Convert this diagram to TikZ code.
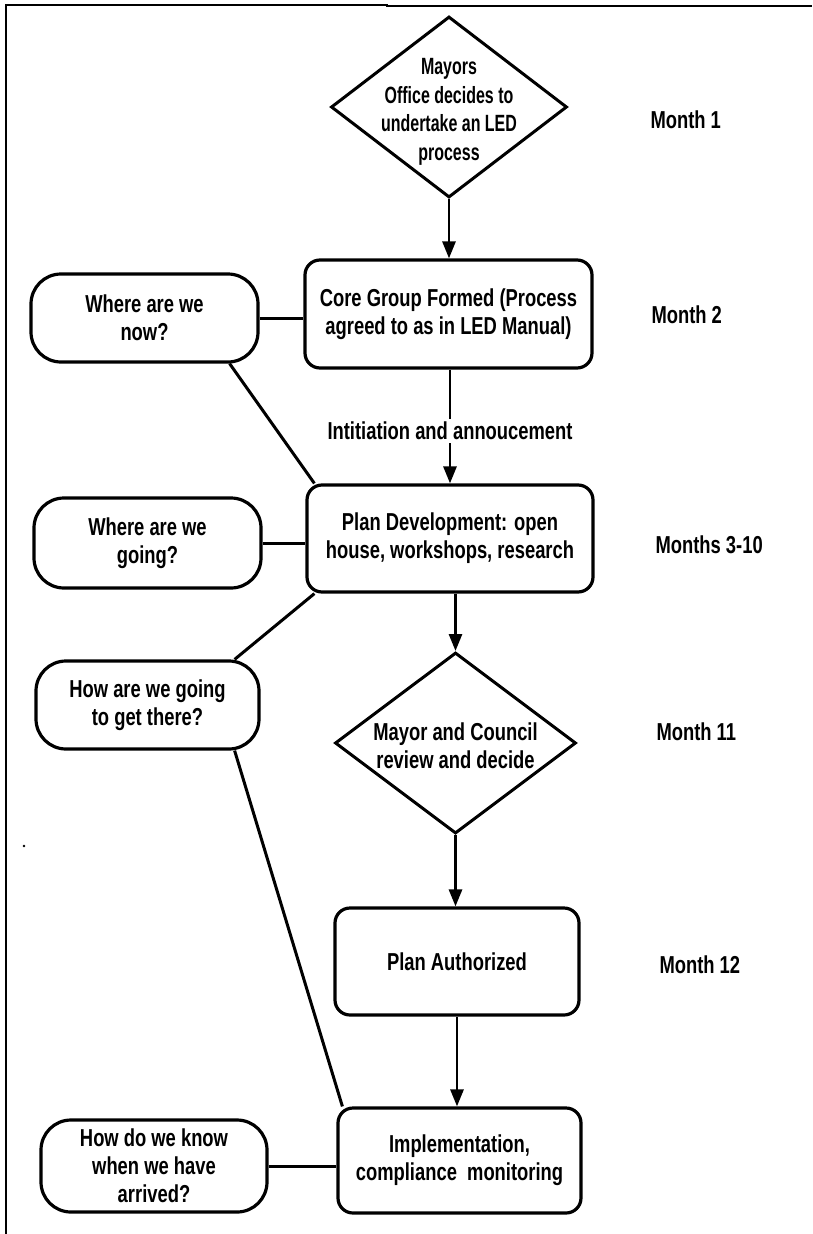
\documentclass[tikz,border=0pt]{standalone}
\usepackage{fontspec}
\setmainfont{Liberation Sans}[FakeStretch=0.75]
\newfontfamily\dfont{Liberation Sans}[FakeStretch=0.68]
\usetikzlibrary{shapes.geometric,arrows.meta}
\tikzset{
  txt/.style={font=\fontsize{24.5}{28}\selectfont\bfseries},
  procbox/.style={draw, line width=3.2pt, rounded corners=15pt, align=center, inner sep=0pt, txt},
  qbox/.style={draw, line width=3.2pt, rounded corners=30pt, align=center, inner sep=0pt, txt},
  dia/.style={draw, diamond, line width=3pt, inner sep=0pt},
  conn/.style={line width=3pt},
  arr/.style={line width=2.8pt, -{Triangle[length=17pt,width=13pt]}},
  month/.style={anchor=west, txt},
}
\begin{document}
\begin{tikzpicture}[x=1pt,y=-1pt]
\useasboundingbox (0,0) rectangle (812,1234);
% frame
\draw[line width=1.3pt] (6,1234) -- (6,5) -- (388,5);
\draw[line width=2.6pt] (386,6) -- (812,6);
\fill (24,846) circle (1.4pt);

% main column
\node[dia, minimum width=236, minimum height=181] (d1) at (449,107) {};
\node[align=center, font=\dfont\fontsize{23.5}{28.5}\selectfont\bfseries] (d1t) at (449,112)
  {Mayors\\Office decides to\\undertake an LED\\process};
\node[procbox, minimum width=287, minimum height=108] (core) at (448.5,314)
  {Core Group Formed (Process\\agreed to as in LED Manual)};
\node[procbox, minimum width=286, minimum height=107] (plan) at (450,538.5)
  {Plan Development: open\\house, workshops, research};
\node[dia, minimum width=241, minimum height=181] (d2) at (455.5,743) {};
\node[align=center, txt] (d2t) at (455.5,746) {Mayor and Council\\review and decide};
\node[procbox, minimum width=244, minimum height=107] (auth) at (457,961.5) {Plan Authorized};
\node[procbox, minimum width=243, minimum height=105] (impl) at (459.5,1160.5)
  {Implementation,\\compliance\ \ monitoring};

% question boxes
\node[qbox, minimum width=227, minimum height=88] (wnow) at (144.5,318) {Where are we\\now?};
\node[qbox, minimum width=227, minimum height=90] (wgo) at (147.5,543) {Where are we\\going?};
\node[qbox, minimum width=223, minimum height=88] (how) at (147.5,705) {How are we going\\to get there?};
\node[qbox, minimum width=226, minimum height=92] (know) at (154,1166) {How do we know\\when we have\\arrived?};

% months
\node[month] (m1) at (647,120) {Month 1};
\node[month] (m2) at (648,315) {Month 2};
\node[month] (m3) at (652,545) {Months 3-10};
\node[month] (m11) at (653,732) {Month 11};
\node[month] (m12) at (656,965) {Month 12};

% arrows
\draw[arr] (d1.south) -- (d1.south |- core.north);
\draw[arr] (core.south -| plan.north) -- (plan.north)
  node[pos=0.54, fill=white, inner sep=3pt, txt] (lab) {Intitiation and annoucement};
\draw[arr] (d2.north |- plan.south) -- (d2.north);
\draw[arr] (d2.south) -- (d2.south |- auth.north);
\draw[arr] (auth.south) -- (auth.south |- impl.north);

% side connectors
\draw[conn] (wnow.east) -- (wnow.east -| core.west);
\draw[conn] (wgo.east) -- (wgo.east -| plan.west);
\draw[conn] (know.east) -- (know.east -| impl.west);
\draw[conn] ([xshift=-30pt]wnow.south east) -- ([xshift=9pt]plan.north west);
\draw[conn] ([xshift=9pt]plan.south west) -- ([xshift=-26pt]how.north east);
\draw[conn] ([xshift=-26pt]how.south east) -- ([xshift=6pt]impl.north west);
\end{tikzpicture}
\end{document}
